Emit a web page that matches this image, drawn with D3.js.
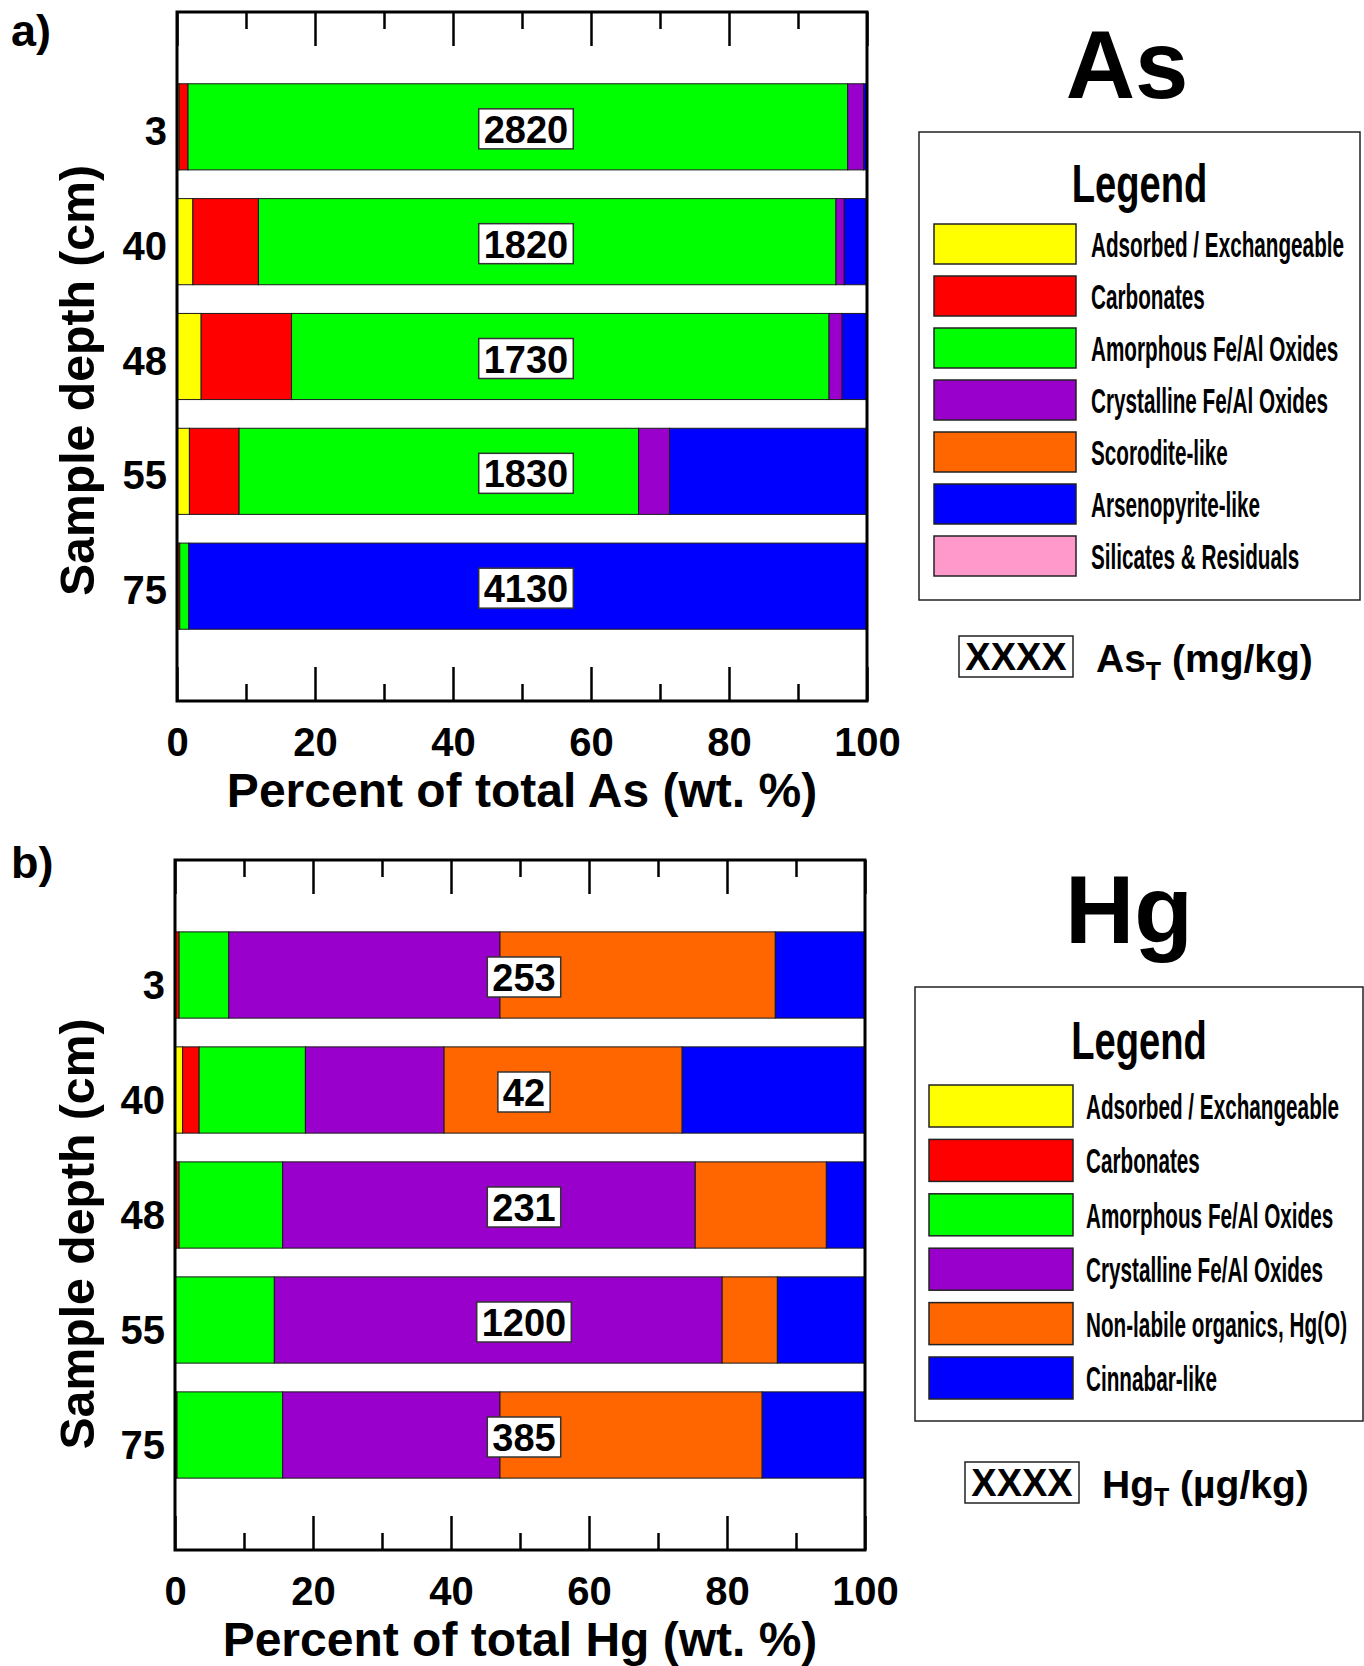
<!DOCTYPE html>
<html>
<head>
<meta charset="utf-8">
<script src="https://cdn.jsdelivr.net/npm/d3@7"></script>
<style>
  body { margin: 0; background: #fff; }
  svg { display: block; font-family: "Liberation Sans", Arial, sans-serif; font-weight: bold; }
</style>
</head>
<body>
<svg id="chart" width="1364" height="1666"></svg>
<script>
// sample depths (cm), top to bottom
const depths = ["3", "40", "48", "55", "75"];
const xTickLabels = [0, 20, 40, 60, 80, 100];

// As fractions (wt. % of total As)
const asFractions = ["Adsorbed / Exchangeable", "Carbonates", "Amorphous Fe/Al Oxides",
  "Crystalline Fe/Al Oxides", "Scorodite-like", "Arsenopyrite-like", "Silicates & Residuals"];
const asAdsorbed    = [0.3, 2.3, 3.5, 1.8, 0];
const asCarbonates  = [1.3, 9.5, 13.1, 7.2, 0.4];
const asAmorphous   = [95.6, 83.7, 77.9, 57.9, 1.3];
const asCrystalline = [2.3, 1.2, 1.9, 4.5, 0];
const asScorodite   = [0, 0, 0, 0, 0];
const asArsenopyrite = [0.5, 3.3, 3.6, 28.6, 98.3];
const asSilicates   = [0, 0, 0, 0, 0];
const asTotals = [2820, 1820, 1730, 1830, 4130];

// Hg fractions (wt. % of total Hg)
const hgFractions = ["Adsorbed / Exchangeable", "Carbonates", "Amorphous Fe/Al Oxides",
  "Crystalline Fe/Al Oxides", "Non-labile organics, Hg(O)", "Cinnabar-like"];
const hgAdsorbed    = [0, 1.1, 0.2, 0, 0];
const hgCarbonates  = [0.6, 2.4, 0.4, 0, 0.3];
const hgAmorphous   = [7.2, 15.4, 15.0, 14.4, 15.3];
const hgCrystalline = [39.3, 20.1, 59.8, 64.9, 31.5];
const hgNonLabile   = [39.9, 34.5, 19.0, 8.0, 38.0];
const hgCinnabar    = [13.0, 26.5, 5.6, 12.7, 14.9];
const hgTotals = [253, 42, 231, 1200, 385];

const asColors = ["#ffff00", "#ff0000", "#00ff00", "#9900cc", "#ff6600", "#0000ff", "#ff99cc"];
const hgColors = ["#ffff00", "#ff0000", "#00ff00", "#9900cc", "#ff6600", "#0000ff"];

const svg = d3.select("#chart");

function toRows(series) {
  return depths.map((d, i) => {
    const row = { depth: d };
    series.forEach((s, k) => { row[k] = s[i]; });
    return row;
  });
}

function drawPanel(cfg) {
  const { left, top, width, height, series, colors, totals, xTitle, letter, letterY, labShift, titleShift } = cfg;
  const g = svg.append("g");

  const x = d3.scaleLinear().domain([0, 100]).range([left, left + width]);
  const y = d3.scalePoint().domain(depths).range([top, top + height]).padding(1);
  const barH = y.step() * 0.75;

  const keys = series.map((s, k) => k);
  const stacked = d3.stack().keys(keys)(toRows(series));

  // stacked bars
  stacked.forEach((layer, k) => {
    g.append("g").selectAll("rect")
      .data(layer.filter(d => d[1] - d[0] > 0))
      .join("rect")
      .attr("x", d => x(d[0]))
      .attr("y", d => y(d.data.depth) - barH / 2)
      .attr("width", d => x(d[1]) - x(d[0]))
      .attr("height", barH)
      .attr("fill", colors[k])
      .attr("stroke", "#1a1a1a")
      .attr("stroke-width", 1);
  });

  // total concentration labels
  depths.forEach((d, i) => {
    const lab = g.append("g");
    const box = lab.append("rect");
    const t = lab.append("text")
      .attr("x", x(50) + 4)
      .attr("y", y(d) + 16)
      .attr("text-anchor", "middle")
      .attr("font-size", 38)
      .text(totals[i]);
    const bb = t.node().getBBox();
    box.attr("x", bb.x - 5)
      .attr("y", y(d) - 18)
      .attr("width", bb.width + 10)
      .attr("height", 40)
      .attr("fill", "#fff")
      .attr("stroke", "#333")
      .attr("stroke-width", 1.5);
  });

  // ticks: major every 20, minor every 10, pointing inward top and bottom
  const minor = d3.range(10, 100, 20);
  const topMajor = d3.axisTop(x).tickValues(xTickLabels).tickSize(-34).tickFormat("");
  const topMinor = d3.axisTop(x).tickValues(minor).tickSize(-17).tickFormat("");
  const botMajor = d3.axisBottom(x).tickValues(xTickLabels).tickSize(-34).tickPadding(27);
  const botMinor = d3.axisBottom(x).tickValues(minor).tickSize(-17).tickFormat("");

  [[topMajor, top], [topMinor, top], [botMajor, top + height], [botMinor, top + height]].forEach(([ax, ty]) => {
    const a = g.append("g").attr("transform", `translate(0,${ty})`).call(ax);
    a.select(".domain").remove();
    a.selectAll("line").attr("stroke", "#000").attr("stroke-width", 2.5);
    a.selectAll("text").attr("font-size", 40).attr("font-family", "Liberation Sans, Arial, sans-serif")
      .attr("font-weight", "bold").attr("fill", "#000");
  });

  // y tick labels
  g.append("g").selectAll("text")
    .data(depths)
    .join("text")
    .attr("x", left - 10)
    .attr("y", d => y(d) + 18 + labShift)
    .attr("text-anchor", "end")
    .attr("font-size", 40)
    .text(d => d);

  // frame
  g.append("rect")
    .attr("x", left).attr("y", top)
    .attr("width", width).attr("height", height)
    .attr("fill", "none").attr("stroke", "#000").attr("stroke-width", 3);

  // axis titles
  g.append("text")
    .attr("x", left + width / 2)
    .attr("y", top + height + 106)
    .attr("text-anchor", "middle")
    .attr("font-size", 48)
    .text(xTitle);

  g.append("text")
    .attr("transform", `translate(94,${top + height / 2 + 24 + titleShift}) rotate(-90)`)
    .attr("text-anchor", "middle")
    .attr("font-size", 48.2)
    .text("Sample depth (cm)");

  g.append("text")
    .attr("x", 11).attr("y", letterY)
    .attr("font-size", 45)
    .text(letter);
}

function drawLegend(cfg) {
  const { bx, by, bw, bh, titleY, sx, sw, sTop, sH, step, gap, labels, colors, element, elemX, elemY, unit, xBox, boxY } = cfg;
  const g = svg.append("g");

  g.append("text")
    .attr("x", elemX).attr("y", elemY)
    .attr("text-anchor", "middle")
    .attr("font-size", 96)
    .text(element);

  g.append("rect")
    .attr("x", bx).attr("y", by).attr("width", bw).attr("height", bh)
    .attr("fill", "#fff").attr("stroke", "#222").attr("stroke-width", 1.5);

  g.append("text")
    .attr("transform", `translate(${bx + bw / 2},${titleY}) scale(0.72,1)`)
    .attr("text-anchor", "middle")
    .attr("font-size", 53)
    .text("Legend");

  const items = g.selectAll("g.item")
    .data(labels)
    .join("g")
    .attr("class", "item")
    .attr("transform", (d, i) => `translate(0,${sTop + i * step})`);

  items.append("rect")
    .attr("x", sx).attr("y", 0).attr("width", sw).attr("height", sH)
    .attr("fill", (d, i) => colors[i])
    .attr("stroke", "#222").attr("stroke-width", 1.5);

  items.append("text")
    .attr("transform", `translate(${sx + sw + gap},${sH / 2 + 13}) scale(0.575,1)`)
    .attr("font-size", 36)
    .text(d => d);

  // total concentration key
  g.append("rect")
    .attr("x", xBox).attr("y", boxY).attr("width", 114).attr("height", 41)
    .attr("fill", "#fff").attr("stroke", "#222").attr("stroke-width", 1.5);
  g.append("text")
    .attr("x", xBox + 57).attr("y", boxY + 34)
    .attr("text-anchor", "middle")
    .attr("font-size", 38)
    .text("XXXX");

  const u = g.append("text")
    .attr("x", xBox + 137).attr("y", boxY + 36)
    .attr("font-size", 39);
  u.append("tspan").text(element);
  u.append("tspan").attr("font-size", 25).attr("dy", 8).text("T");
  u.append("tspan").attr("dy", -8).text(" " + unit);
}

drawPanel({
  left: 177, top: 12, width: 690, height: 689,
  series: [asAdsorbed, asCarbonates, asAmorphous, asCrystalline, asScorodite, asArsenopyrite, asSilicates],
  colors: asColors, totals: asTotals,
  xTitle: "Percent of total As (wt. %)", letter: "a)", letterY: 46, labShift: 0, titleShift: 0
});

drawPanel({
  left: 175, top: 860, width: 690, height: 690,
  series: [hgAdsorbed, hgCarbonates, hgAmorphous, hgCrystalline, hgNonLabile, hgCinnabar],
  colors: hgColors, totals: hgTotals,
  xTitle: "Percent of total Hg (wt. %)", letter: "b)", letterY: 878, labShift: 6, titleShift: 5
});

drawLegend({
  bx: 919, by: 132, bw: 441, bh: 468, titleY: 202,
  sx: 934, sw: 142, sTop: 224, sH: 40, step: 52, gap: 15,
  labels: asFractions, colors: asColors,
  element: "As", elemX: 1127, elemY: 98, unit: "(mg/kg)", xBox: 959, boxY: 636
});

drawLegend({
  bx: 915, by: 987, bw: 448, bh: 434, titleY: 1059,
  sx: 929, sw: 144, sTop: 1085, sH: 42, step: 54.4, gap: 13,
  labels: hgFractions, colors: hgColors,
  element: "Hg", elemX: 1129, elemY: 943, unit: "(\u00b5g/kg)", xBox: 965, boxY: 1462
});
</script>
</body>
</html>
